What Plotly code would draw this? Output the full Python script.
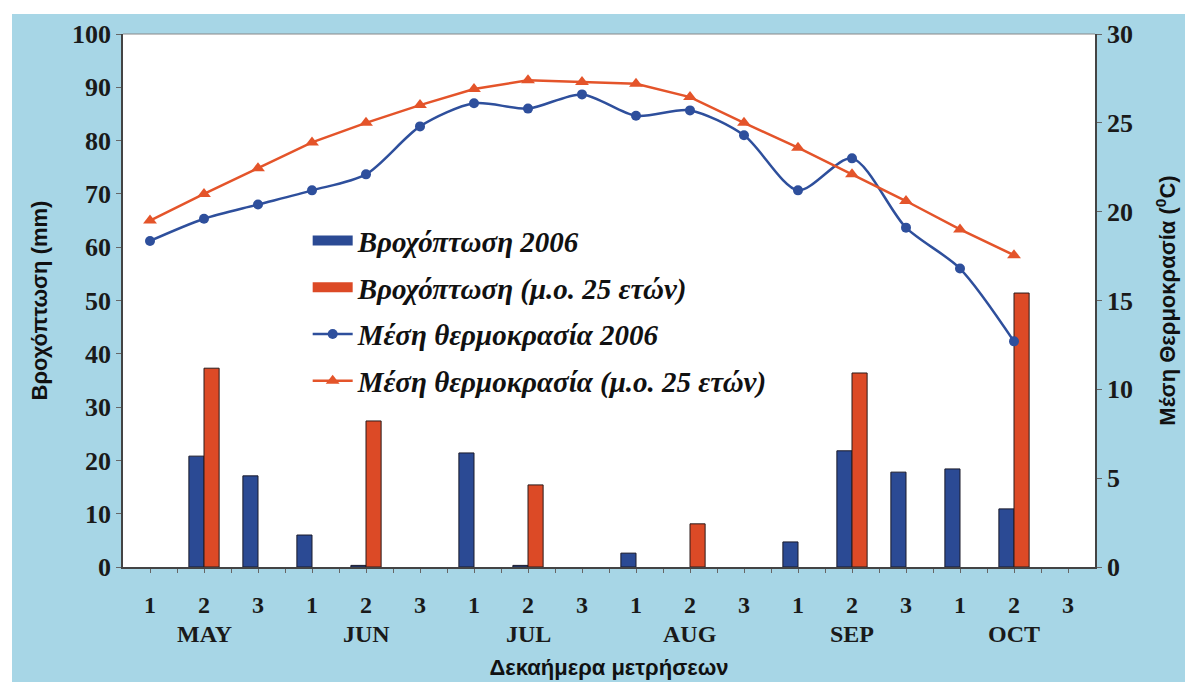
import plotly.graph_objects as go

# dekaimera (10-day periods), May to October
decades = ["1", "2", "3"] * 6
months = ["MAY", "JUN", "JUL", "AUG", "SEP", "OCT"]
month_pos = [1, 4, 7, 10, 13, 16]  # middle decade of each month

# rainfall (mm)
rain_2006 = [0, 20.8, 17.1, 6.0, 0.3, 0, 21.4, 0.3, 0, 2.6, 0, 0, 4.7, 21.8, 17.8, 18.4, 10.9, 0]
rain_avg25 = [0, 37.3, 0, 0, 27.4, 0, 0, 15.4, 0, 0, 8.1, 0, 0, 36.4, 0, 0, 51.4, 0]

# mean temperature (C)
temp_2006 = [18.35, 19.6, 20.4, 21.2, 22.1, 24.8, 26.1, 25.8, 26.6, 25.4, 25.7, 24.3,
             21.2, 23.0, 19.1, 16.8, 12.7, None]
temp_avg25 = [19.5, 21.0, 22.45, 23.9, 25.0, 26.0, 26.9, 27.4, 27.3, 27.2, 26.45, 25.0,
              23.6, 22.1, 20.6, 19.0, 17.55, None]

x = list(range(len(decades)))

BLUE_BAR = "#2b4a94"
RED_BAR = "#dc4a26"
BLUE_LINE = "#2e4f9c"
RED_LINE = "#e4542a"
BG = "#a7d6e6"

serif_bold = dict(family="Liberation Serif", size=24, color="#1a1a1a", weight="bold")
sans_bold = dict(family="Liberation Sans", size=22, color="#111111", weight="bold")

# no outline on empty bars
def outline(vals):
    return [0 if v == 0 else 1 for v in vals]

fig = go.Figure()

# legend swatches for the bars (wide blocks like the original)
fig.add_trace(go.Scatter(x=[None], y=[None], mode="lines", name="Βροχόπτωση 2006",
                         legendgroup="a", line=dict(color=BLUE_BAR, width=16)))
fig.add_trace(go.Scatter(x=[None], y=[None], mode="lines", name="Βροχόπτωση (μ.ο. 25 ετών)",
                         legendgroup="b", line=dict(color=RED_BAR, width=16)))

fig.add_trace(go.Bar(
    x=x, y=rain_2006, name="Βροχόπτωση 2006", legendgroup="a", showlegend=False,
    marker=dict(color=BLUE_BAR, line=dict(color="#1a1a2a", width=outline(rain_2006))),
))
fig.add_trace(go.Bar(
    x=x, y=rain_avg25, name="Βροχόπτωση (μ.ο. 25 ετών)", legendgroup="b", showlegend=False,
    marker=dict(color=RED_BAR, line=dict(color="#2a1a1a", width=outline(rain_avg25))),
))
fig.add_trace(go.Scatter(
    x=x, y=temp_2006, name="Μέση θερμοκρασία 2006", legendgroup="c", yaxis="y2",
    mode="lines+markers", line=dict(color=BLUE_LINE, width=2.5, shape="spline", smoothing=0.8),
    marker=dict(symbol="circle", size=10, color=BLUE_LINE),
))
fig.add_trace(go.Scatter(
    x=x, y=temp_avg25, name="Μέση θερμοκρασία (μ.ο. 25 ετών)", legendgroup="d", yaxis="y2",
    mode="lines+markers", line=dict(color=RED_LINE, width=2.5),
    marker=dict(symbol="triangle-up", size=12, color=RED_LINE),
))

# month names under the decade numbers
for pos, m in zip(month_pos, months):
    fig.add_annotation(x=pos, y=-0.126, xref="x", yref="paper", text=m, showarrow=False,
                       font=serif_bold, xanchor="center", yanchor="middle")

# page body adds an 8px margin at top/left
fig.update_layout(
    width=1193, height=682,
    margin=dict(l=115, r=106, t=26, b=123),
    paper_bgcolor=BG,
    plot_bgcolor="white",
    barmode="group",
    bargap=0.44,
    bargroupgap=0,
    showlegend=True,
    legend=dict(
        x=0.19, y=0.66, xanchor="left", yanchor="top",
        bgcolor="rgba(0,0,0,0)",
        font=dict(family="Liberation Serif", size=29, color="#111111",
                  weight="bold", style="italic"),
        traceorder="grouped", tracegroupgap=6, itemwidth=40,
    ),
    xaxis=dict(
        range=[-0.5, 17.5],
        tickvals=x, ticktext=decades,
        tickfont=serif_bold,
        ticks="outside", ticklen=4, tickcolor="#666666",
        ticklabelstandoff=11,
        minor=dict(tickvals=[i + 0.5 for i in x[:-1]], ticks="outside", ticklen=4,
                   tickcolor="#666666"),
        showline=True, linecolor="#444444", linewidth=1.5,
        showgrid=False, zeroline=False,
        title=dict(text="Δεκαήμερα μετρήσεων", font=sans_bold, standoff=43),
    ),
    yaxis=dict(
        range=[0, 100], dtick=10,
        tickfont=dict(serif_bold, size=26),
        ticks="outside", ticklen=5, tickcolor="#666666",
        showline=True, linecolor="#444444", linewidth=1.5,
        showgrid=False, zeroline=False,
        title=dict(text="Βροχόπτωση (mm)", font=sans_bold, standoff=18),
    ),
    yaxis2=dict(
        range=[0, 30], dtick=5,
        overlaying="y", side="right",
        tickfont=dict(serif_bold, size=26),
        ticks="outside", ticklen=5, tickcolor="#666666",
        showline=True, linecolor="#444444", linewidth=1.5,
        showgrid=False, zeroline=False,
        title=dict(text="Μέση Θερμοκρασία (<sup>0</sup>C)", font=sans_bold, standoff=28),
    ),
    shapes=[
        # thin top border of plot area
        dict(type="line", xref="paper", yref="paper", x0=0, x1=1, y0=1, y1=1,
             line=dict(color="#888888", width=1)),
        # white strips of the scanned page
        dict(type="rect", xref="paper", yref="paper", x0=-0.2, x1=1.2, y0=1.0375, y1=1.2,
             fillcolor="white", line=dict(width=0), layer="below"),
        dict(type="rect", xref="paper", yref="paper", x0=-0.2, x1=-0.1142, y0=-0.3, y1=1.2,
             fillcolor="white", line=dict(width=0), layer="below"),
    ],
)

fig.write_html("out.html")
